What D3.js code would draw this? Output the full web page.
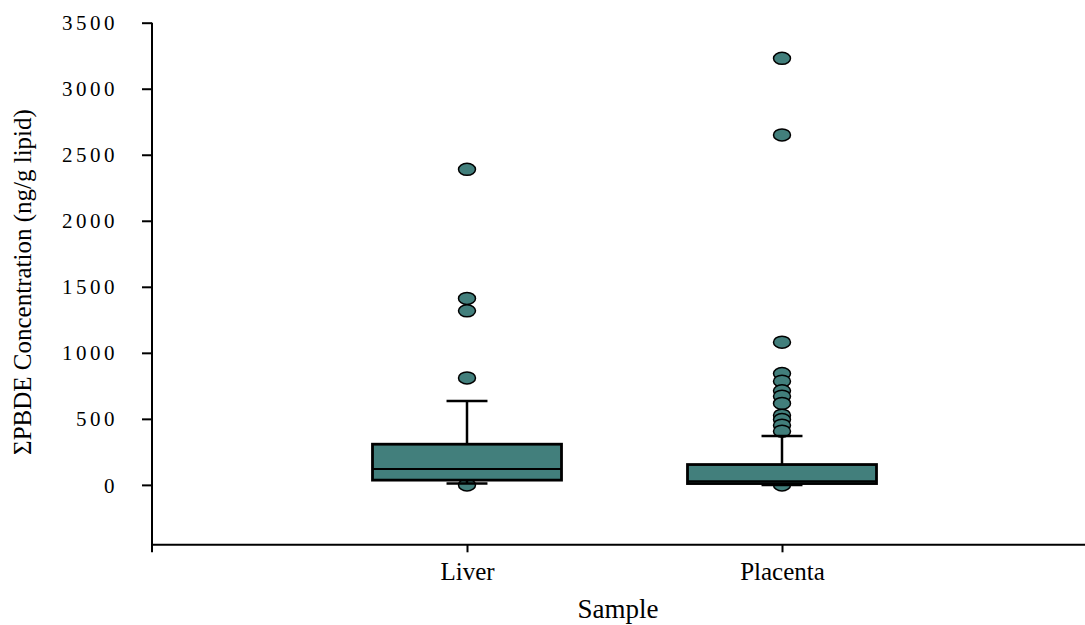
<!DOCTYPE html>
<html>
<head>
<meta charset="utf-8">
<script src="https://cdn.jsdelivr.net/npm/d3@7"></script>
<style>
    body { margin: 0; background: #fff; }
    text { font-family: "Liberation Serif", "Times New Roman", serif; fill: #000; }
</style>
</head>
<body>
<svg id="chart" width="1085" height="625"></svg>
<script>
// categories and box statistics
let categories = ["Liver", "Placenta"];
let whiskerLow = [10, 0];
let q1 = [36, 10];
let median = [121, 28];
let q3 = [308, 154];
let whiskerHigh = [636, 371];
let liverOutliers = [2390, 1412, 1318, 810, 0];
let placentaOutliers = [3230, 2650, 1081, 843, 785, 712, 672, 617, 528, 495, 452, 407, 0];
let yTicks = [0, 500, 1000, 1500, 2000, 2500, 3000, 3500];

let outliers = [liverOutliers, placentaOutliers];

let svg = d3.select("#chart");

let x = d3.scaleLinear().domain([0, 3]).range([152, 1097]);
let y = d3.scaleLinear().domain([-450, 3500]).range([544.3, 22.7]);

let boxWidth = 0.6;
let capWidth = 0.13;
let fill = "#427f7c";

let boxes = categories.map(function(c, i) {
    return {
        name: c,
        pos: i + 1,
        lo: whiskerLow[i],
        q1: q1[i],
        med: median[i],
        q3: q3[i],
        hi: whiskerHigh[i],
        out: outliers[i]
    };
});

// outliers go under the boxes and caps
let g = svg.append("g");
boxes.forEach(function(b) {
    g.selectAll(null)
        .data(b.out)
        .enter().append("ellipse")
        .attr("cx", x(b.pos))
        .attr("cy", function(d) { return y(d); })
        .attr("rx", 8.5)
        .attr("ry", 6)
        .attr("fill", fill)
        .attr("stroke", "#000")
        .attr("stroke-width", 1.5);
});

boxes.forEach(function(b) {
    let cx = x(b.pos);
    let half = (x(boxWidth) - x(0)) / 2;
    let capHalf = (x(capWidth) - x(0)) / 2;

    // whiskers
    g.append("line")
        .attr("x1", cx).attr("x2", cx)
        .attr("y1", y(b.lo)).attr("y2", y(b.hi))
        .attr("stroke", "#000").attr("stroke-width", 2.5);
    [b.lo, b.hi].forEach(function(v) {
        g.append("line")
            .attr("x1", cx - capHalf).attr("x2", cx + capHalf)
            .attr("y1", y(v)).attr("y2", y(v))
            .attr("stroke", "#000").attr("stroke-width", 2.5);
    });

    // box
    g.append("rect")
        .attr("x", cx - half)
        .attr("y", y(b.q3))
        .attr("width", half * 2)
        .attr("height", y(b.q1) - y(b.q3))
        .attr("fill", fill)
        .attr("stroke", "#000")
        .attr("stroke-width", 2.8);
    g.append("line")
        .attr("x1", cx - half).attr("x2", cx + half)
        .attr("y1", y(b.med)).attr("y2", y(b.med))
        .attr("stroke", "#000").attr("stroke-width", 2);
});

// y axis
let yAxis = svg.append("g")
    .attr("transform", "translate(152,0)")
    .call(d3.axisLeft(y).tickValues(yTicks).tickSize(10).tickSizeOuter(0).tickPadding(24)
        .tickFormat(d3.format("d")));
yAxis.select(".domain").attr("stroke-width", 2).attr("d", "M0," + y(3500) + "V" + (y(-450) + 8));
yAxis.selectAll(".tick line").attr("stroke-width", 2);
yAxis.selectAll(".tick text")
    .style("font-size", "21px")
    .style("letter-spacing", "3.5px")
    .attr("dy", "0.34em");

// x axis
let xAxis = svg.append("g")
    .attr("transform", "translate(0," + y(-450) + ")")
    .call(d3.axisBottom(x).tickValues([1, 2]).tickSize(8).tickSizeOuter(0).tickPadding(10)
        .tickFormat(function(d) { return categories[d - 1]; }));
xAxis.select(".domain").attr("stroke-width", 2);
xAxis.selectAll(".tick line").attr("stroke-width", 2);
xAxis.selectAll(".tick text").style("font-size", "25px");

// axis titles
svg.append("text")
    .attr("x", 618)
    .attr("y", 618)
    .attr("text-anchor", "middle")
    .style("font-size", "27px")
    .text("Sample");

svg.append("text")
    .attr("transform", "translate(31,282) rotate(-90)")
    .attr("text-anchor", "middle")
    .style("font-size", "25px")
    .text("ΣPBDE Concentration (ng/g lipid)");
</script>
</body>
</html>
